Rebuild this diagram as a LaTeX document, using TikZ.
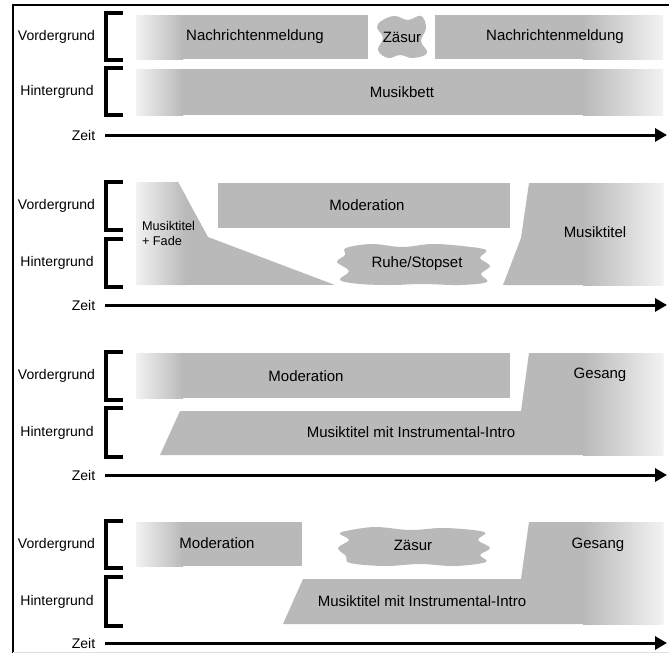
\documentclass[tikz,border=0pt]{standalone}
\usepackage{fontspec}
\setmainfont{Liberation Sans}
\usetikzlibrary{arrows.meta}
\definecolor{bargray}{RGB}{185,185,185}
\definecolor{fadegray}{RGB}{242,242,242}
\tikzset{
  bar/.style={fill=bargray},
  fadeL/.style={left color=fadegray,right color=bargray},
  fadeR/.style={left color=bargray,right color=fadegray},
  klammerlinie/.style={line width=4pt,line join=miter},
  zeitpfeil/.style={line width=3pt,-{Triangle[length=12pt,width=13pt]}},
  ebene/.style={font=\fontsize{14}{16}\selectfont},
  bartext/.style={font=\fontsize{15}{18}\selectfont},
  kleintext/.style={font=\fontsize{12.7}{15}\selectfont,align=left}
}
\begin{document}
\begin{tikzpicture}[x=1pt,y=-1pt]
  \useasboundingbox (0,0) rectangle (669,653);
  \draw[line width=2.5pt] (13,653) -- (13,5) -- (669,5);
  \draw[black!12,line width=1pt] (13,652.5) -- (669,652.5);

  % Klammern, Ebenen und Zeitachse je Zeile
  \foreach \va/\vb/\ha/\hb/\z [count=\i] in {13/60/68/115/135, 182/230/239/287/305, 352/400/408/457/475, 521/568/577/626/643} {
    \draw[klammerlinie] (123,\va) -- (106,\va) -- (106,\vb) -- (123,\vb);
    \draw[klammerlinie] (123,\ha) -- (106,\ha) -- (106,\hb) -- (123,\hb);
    \node[ebene] (vg\i) at (56.5,{(\va+\vb)/2}) {Vordergrund};
    \node[ebene] (hg\i) at (57,{(\ha+\hb)/2}) {Hintergrund};
    \node[ebene,inner xsep=10pt] (zeit\i) at (83.5,\z) {Zeit};
    \coordinate (ende\i) at (667,\z);
    \draw[zeitpfeil] (zeit\i) -- (ende\i);
  }

  % Zeile 1
  \fill[bar] (136,15) rectangle (368,59);
  \shade[fadeL] (136,15) rectangle (183,59);
  \fill[bar] (435,15) rectangle (663,59);
  \shade[fadeR] (583,15) rectangle (663,59);
  \fill[bar] plot[smooth cycle,tension=0.7] coordinates {(383,20) (395,16) (408,20) (421,16) (426,28) (421,41) (427,53) (413,58) (400,55) (388,58) (378,50) (383,38) (377,27)};
  \fill[bar] (136,69) rectangle (663,115);
  \shade[fadeL] (136,69) rectangle (183,115);
  \shade[fadeR] (583,69) rectangle (663,115);
  \node[bartext] (nach1) at (255,37) {Nachrichtenmeldung};
  \node[bartext] (zaesur1) at (402,37) {Zäsur};
  \node[bartext] (nach2) at (555,37) {Nachrichtenmeldung};
  \node[bartext] (bett) at (402,92) {Musikbett};

  % Zeile 2
  \begin{scope}
    \clip (136,182) -- (178,182) -- (208,237) -- (335,285) -- (136,285) -- cycle;
    \fill[bar] (136,182) rectangle (335,285);
    \shade[fadeL] (136,182) rectangle (186,285);
  \end{scope}
  \fill[bar] (218,183) rectangle (510,228);
  \fill[bar] plot[smooth cycle,tension=0.6] coordinates {(346,248) (372,244) (402,247) (432,244) (462,246) (486,250) (480,258) (490,266) (481,274) (487,282) (460,285) (422,284) (392,285) (360,284) (340,280) (349,271) (337,262) (345,255)};
  \fill[bar] (529,183) -- (663,183) -- (663,285) -- (503,285) -- (521,238) -- cycle;
  \shade[fadeR] (583,183) rectangle (663,285);
  \node[kleintext] (fade) at (168.5,233) {Musiktitel\\+ Fade};
  \node[bartext] (mod2) at (367,205) {Moderation};
  \node[bartext] (ruhe) at (417,264) {Ruhe/Stopset};
  \node[bartext] (titel2) at (595,232) {Musiktitel};

  % Zeile 3
  \fill[bar] (136,353) rectangle (510,398);
  \shade[fadeL] (136,353) rectangle (183,398);
  \fill[bar] (529,353) -- (663,353) -- (663,455) -- (160,455) -- (180,411) -- (521,411) -- cycle;
  \shade[fadeR] (583,353) rectangle (663,455);
  \node[bartext] (mod3) at (306,376) {Moderation};
  \node[bartext] (gesang3) at (600,375) {Gesang};
  \node[bartext] (intro3) at (411,432) {Musiktitel mit Instrumental-Intro};

  % Zeile 4
  \fill[bar] (136,522) rectangle (302,566);
  \shade[fadeL] (136,522) rectangle (183,566);
  \fill[bar] plot[smooth cycle,tension=0.6] coordinates {(346,531) (375,527) (410,530) (445,528) (484,532) (478,540) (490,548) (480,555) (486,562) (455,566) (420,564) (385,566) (350,563) (346,556) (338,548) (349,540) (340,534)};
  \fill[bar] (529,522) -- (663,522) -- (663,624) -- (283,624) -- (303,579) -- (521,579) -- cycle;
  \shade[fadeR] (583,522) rectangle (663,624);
  \node[bartext] (mod4) at (217,543) {Moderation};
  \node[bartext] (zaesur2) at (413,545) {Zäsur};
  \node[bartext] (gesang4) at (598,545) {Gesang};
  \node[bartext] (intro4) at (422,601) {Musiktitel mit Instrumental-Intro};
\end{tikzpicture}
\end{document}
